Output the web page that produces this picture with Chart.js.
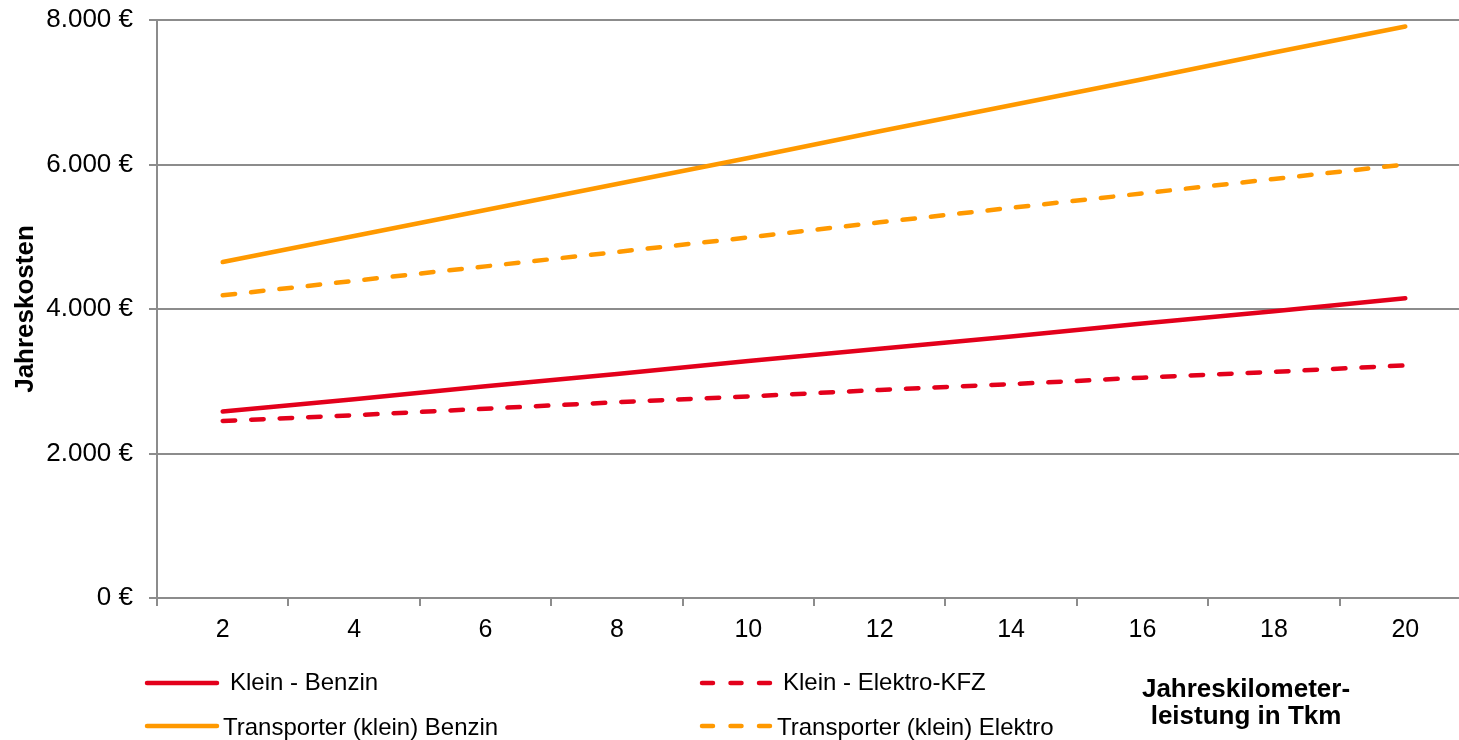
<!DOCTYPE html>
<html lang="de">
<head>
<meta charset="utf-8">
<title>Jahreskosten nach Jahreskilometerleistung</title>
<script src="https://cdn.jsdelivr.net/npm/chart.js@4.4.1/dist/chart.umd.min.js"></script>
<style>
  html, body { margin: 0; padding: 0; background: #fff; overflow: hidden; }
  body { width: 1459px; height: 740px; position: relative; font-family: "Liberation Sans", Arial, sans-serif; color: #000; }
  #wrap { position: absolute; left: 0; top: 0; width: 1480px; height: 740px; }
  .lg { position: absolute; font-size: 24px; line-height: 28px; white-space: nowrap; }
  .sw { position: absolute; }
  #xtitle { position: absolute; left: 1096px; top: 675px; width: 300px; text-align: center;
            font-weight: bold; font-size: 26px; line-height: 27px; }
</style>
</head>
<body>
<div id="wrap"><canvas id="c" width="1480" height="740"></canvas></div>

<svg class="sw" style="left:140px;top:675px" width="90" height="16"><line x1="7" y1="8" x2="77" y2="8" stroke="#E3001B" stroke-width="4.5" stroke-linecap="round"/></svg>
<div class="lg" style="left:230px;top:668px">Klein - Benzin</div>

<svg class="sw" style="left:693px;top:675px" width="90" height="16"><line x1="9" y1="8" x2="77" y2="8" stroke="#E3001B" stroke-width="4.5" stroke-linecap="round" stroke-dasharray="11 17.5"/></svg>
<div class="lg" style="left:783px;top:668px">Klein - Elektro-KFZ</div>

<svg class="sw" style="left:140px;top:718px" width="90" height="16"><line x1="7" y1="8" x2="77" y2="8" stroke="#FF9900" stroke-width="4.5" stroke-linecap="round"/></svg>
<div class="lg" style="left:223px;top:713px">Transporter (klein) Benzin</div>

<svg class="sw" style="left:693px;top:718px" width="90" height="16"><line x1="9" y1="8" x2="77" y2="8" stroke="#FF9900" stroke-width="4.5" stroke-linecap="round" stroke-dasharray="11 17.5"/></svg>
<div class="lg" style="left:777px;top:713px">Transporter (klein) Elektro</div>

<div id="xtitle">Jahreskilometer-<br>leistung in Tkm</div>

<script>
// Jahreskilometerleistung in Tausend km
const kmCategories = ['2', '4', '6', '8', '10', '12', '14', '16', '18', '20'];

// Jahreskosten in Euro
const kleinBenzin        = [2580, 2750, 2930, 3100, 3280, 3450, 3620, 3800, 3970, 4150];
const kleinElektro       = [2450, 2530, 2620, 2710, 2790, 2880, 2960, 3050, 3130, 3220];
const transporterBenzin  = [4650, 5010, 5370, 5730, 6090, 6460, 6820, 7180, 7550, 7910];
const transporterElektro = [4190, 4390, 4590, 4790, 4990, 5200, 5400, 5600, 5800, 6000];

const seriesNames = ['Klein - Benzin', 'Klein - Elektro-KFZ', 'Transporter (klein) Benzin', 'Transporter (klein) Elektro'];

const yMin = 0, yMax = 8000, yStep = 2000;

const RED = '#E3001B';
const ORANGE = '#FF9900';
const GRID = '#8C8C8C';
const FONT = '"Liberation Sans", Arial, sans-serif';

function euro(v) {
  return String(v).replace(/\B(?=(\d{3})+(?!\d))/g, '.') + ' €';
}

function lineSet(label, data, color, dashed) {
  return {
    label, data,
    borderColor: color,
    backgroundColor: color,
    borderWidth: 4.5,
    borderDash: dashed ? [12.5, 16] : [],
    borderCapStyle: 'round',
    borderJoinStyle: 'round',
    pointRadius: 0,
    pointHoverRadius: 0,
    tension: 0,
    fill: false
  };
}

new Chart(document.getElementById('c'), {
  type: 'line',
  data: {
    labels: kmCategories,
    datasets: [
      lineSet(seriesNames[0], kleinBenzin, RED, false),
      lineSet(seriesNames[1], kleinElektro, RED, true),
      lineSet(seriesNames[2], transporterBenzin, ORANGE, false),
      lineSet(seriesNames[3], transporterElektro, ORANGE, true)
    ]
  },
  options: {
    responsive: false,
    animation: false,
    devicePixelRatio: 1,
    layout: { padding: { left: 0, top: 20, right: 9, bottom: 0 } },
    plugins: { legend: { display: false }, tooltip: { enabled: false } },
    scales: {
      x: {
        offset: true,
        grid: { offset: true, drawOnChartArea: false, drawTicks: true, tickLength: 8, color: GRID, lineWidth: 2 },
        border: { display: true, color: GRID, width: 2 },
        ticks: { color: '#000', font: { family: FONT, size: 25 }, padding: 9, maxRotation: 0, autoSkip: false },
        afterFit: (s) => { s.height = 142; s.paddingLeft = 0; s.paddingRight = 0; }
      },
      y: {
        min: yMin, max: yMax,
        grid: { drawOnChartArea: true, drawTicks: true, tickLength: 8, color: GRID, lineWidth: 2 },
        border: { display: true, color: GRID, width: 2 },
        ticks: { stepSize: yStep, color: '#000', font: { family: FONT, size: 26 }, padding: 16, callback: (v) => euro(v) },
        title: { display: true, text: 'Jahreskosten', color: '#000', font: { family: FONT, size: 26, weight: 'bold' }, padding: { top: 10, bottom: 0 } },
        afterFit: (s) => { s.width = 157; s.paddingTop = 0; s.paddingBottom = 0; }
      }
    }
  }
});
</script>
</body>
</html>
